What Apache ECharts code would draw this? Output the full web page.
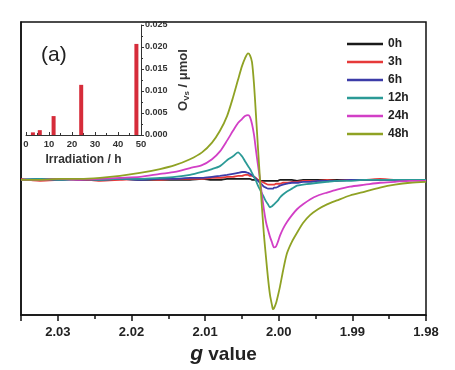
<!DOCTYPE html>
<html><head><meta charset="utf-8">
<script src="https://cdn.jsdelivr.net/npm/echarts@6/dist/echarts.min.js"></script>
<style>html,body{margin:0;padding:0;background:#fff}#c{width:455px;height:370px}</style>
</head><body><div id="c"></div>
<script>
// g values (x axis of the EPR spectra)
const gValues = [2.03500,2.03242,2.02970,2.02699,2.02427,2.02156,2.01884,2.01612,2.01409,2.01205,
  2.01042,2.00906,2.00798,2.00702,2.00621,2.00553,2.00499,2.00458,2.00417,2.00390,
  2.00363,2.00336,2.00309,2.00282,2.00254,2.00227,2.00200,2.00173,2.00146,2.00119,
  2.00091,2.00078,2.00064,2.00037,2.00010,1.99983,1.99942,1.99888,1.99820,1.99752,
  1.99670,1.99575,1.99467,1.99344,1.99209,1.99032,1.98828,1.98625,1.98421,1.98217,1.98000];
// EPR signal intensities (arbitrary units)
const y0h = [0,0,1,0,0,1,0,0,0,0, 1,0,0,1,1,1,1,1,1,1, 0,0,0,0,-1,-1,-1,-1,-1,-1, -1,-1,-1,-1,-1,0,0,0,0,-1, 0,0,0,0,0,0,0,0,0,0,0];
const y3h = [1,-1,0,1,-1,0,1,0,1,1, 1,2,2,3,3,4,4,5,5,4, 4,3,2,0,-1,-2,-3,-4,-5,-5, -5,-5,-5,-4,-4,-4,-3,-3,-2,-2, -1,-1,-1,0,-1,0,0,1,0,0,0];
const y6h = [0,1,0,1,0,1,0,1,1,2, 2,3,4,5,6,7,8,8,7,6, 5,3,1,-1,-3,-5,-7,-8,-9,-9, -9,-9,-8,-8,-7,-6,-5,-4,-3,-3, -2,-2,-1,-1,-1,0,0,0,0,0,0];
const y12h = [0,1,0,1,0,1,1,2,3,5, 8,11,14,20,24,28,24,19,14,11, 7,3,-1,-6,-10,-14,-18,-22,-25,-28, -27,-26,-25,-23,-21,-18,-15,-12,-9,-6, -5,-4,-3,-2,-1,-1,0,0,0,0,0];
const y24h = [0,0,1,0,1,2,3,6,8,12, 15,21,29,40,50,58,62,65,66,64, 57,46,30,15,0,-16,-31,-43,-51,-58, -64,-67,-69,-68,-63,-57,-50,-43,-36,-30, -25,-20,-16,-13,-10,-7,-5,-3,-2,-1,-1];
const y48h = [0,0,1,1,2,4,7,11,15,21, 28,38,50,65,84,102,116,124,129,127, 120,98,66,33,0,-29,-57,-79,-100,-117, -128,-132,-131,-126,-118,-109,-93,-75,-63,-54, -44,-36,-30,-25,-21,-16,-12,-8,-5,-3,-2];
const seriesNames = ['0h','3h','6h','12h','24h','48h'];
// inset: oxygen vacancy amount vs irradiation time
const irradiationHours = [3,6,12,24,48];
const vacancyAmount = [0.0006,0.0011,0.0043,0.0114,0.0207];

const FONT = 'Liberation Sans, Arial, sans-serif';
const colors = ['#1a1a1a','#e63a3a','#3c3ca8','#2b9a96','#d23fc6','#8fa224'];
const epr = [y0h,y3h,y6h,y12h,y24h,y48h];
const axisCol = '#111';

const lineSeries = seriesNames.map((n,i)=>({
  name:n, type:'line', xAxisIndex:0, yAxisIndex:0, symbol:'none', showSymbol:false, smooth:0.25,
  data: gValues.map((g,j)=>[g, epr[i][j]]),
  lineStyle:{width:1.8,color:colors[i]}, itemStyle:{color:colors[i]}, z:2+i
}));

const chart = echarts.init(document.getElementById('c'), null, {renderer:'canvas'});
chart.setOption({
  animation:false,
  backgroundColor:'#fff',
  textStyle:{fontFamily:FONT},
  grid:[
    {left:21, right:29, top:22, bottom:49, show:true, borderColor:axisCol, borderWidth:1.5},
    {left:26, right:314, top:25, bottom:235}
  ],
  legend:{
    data:seriesNames, orient:'vertical', left:347, top:38, itemWidth:36, itemHeight:2.5, itemGap:6,
    icon:'rect', padding:0, textStyle:{fontSize:12, fontWeight:'bold', color:'#222', fontFamily:FONT}
  },
  graphic:[{type:'text', left:41, top:45, style:{text:'(a)', fontSize:21, fill:'#222', fontFamily:FONT}}],
  xAxis:[
    {gridIndex:0, type:'value', min:1.98, max:2.035, interval:0.01, inverse:true, position:'bottom',
     axisLine:{show:true, onZero:false, lineStyle:{color:axisCol, width:1.5}},
     axisTick:{show:true, length:6, lineStyle:{color:axisCol, width:1.5}},
     axisLabel:{formatter:v=>(Math.abs(v-2.035)<1e-6?'':v.toFixed(2)), fontSize:13, fontWeight:'bold', color:'#222', margin:11, fontFamily:FONT},
     splitLine:{show:false},
     name:'{i|g}{n| value}', nameLocation:'middle', nameGap:25,
     nameTextStyle:{rich:{i:{fontStyle:'italic', fontWeight:'bold', fontSize:21, color:'#222', fontFamily:FONT},
                          n:{fontWeight:'bold', fontSize:19, color:'#222', fontFamily:FONT}}}},
    {gridIndex:0, type:'value', min:1.98, max:2.035, interval:0.005, inverse:true, position:'bottom', offset:0,
     axisLine:{show:false, onZero:false}, axisTick:{show:true, length:4, lineStyle:{color:axisCol, width:1.5}},
     axisLabel:{show:false}, splitLine:{show:false}},
    {gridIndex:1, type:'value', min:0, max:50, interval:10,
     axisLine:{show:true, onZero:false, lineStyle:{color:'#333', width:1}},
     axisTick:{show:true, inside:true, length:3, lineStyle:{color:'#333'}},
     minorTick:{show:true, splitNumber:2, length:2, lineStyle:{color:'#333'}},
     axisLabel:{fontSize:9.5, fontWeight:'bold', color:'#333', margin:4, fontFamily:FONT},
     splitLine:{show:false},
     name:'Irradiation / h', nameLocation:'middle', nameGap:19,
     nameTextStyle:{fontSize:12, fontWeight:'bold', color:'#333', fontFamily:FONT}}
  ],
  yAxis:[
    {gridIndex:0, type:'value', min:-138, max:161,
     axisLine:{show:true, onZero:false, lineStyle:{color:axisCol, width:1.5}},
     axisTick:{show:false}, axisLabel:{show:false}, splitLine:{show:false}},
    {gridIndex:1, type:'value', position:'right', min:0, max:0.025, interval:0.005,
     axisLine:{show:true, onZero:false, lineStyle:{color:'#333', width:1}},
     axisTick:{show:true, length:3, lineStyle:{color:'#333'}},
     minorTick:{show:true, splitNumber:2, length:2, lineStyle:{color:'#333'}},
     axisLabel:{formatter:v=>v.toFixed(3), fontSize:9, fontWeight:'bold', color:'#333', margin:4, fontFamily:FONT},
     splitLine:{show:false},
     name:'{o|O}{s|Vs}{o| / μmol}', nameLocation:'middle', nameRotate:90, nameGap:35,
     nameTextStyle:{rich:{o:{fontSize:13, fontWeight:'bold', color:'#333', fontFamily:FONT},
                          s:{fontSize:8, fontWeight:'bold', color:'#333', verticalAlign:'bottom', padding:[7,0,0,0], fontFamily:FONT}}}}
  ],
  series: lineSeries.concat([{
    name:'inset', type:'bar', xAxisIndex:2, yAxisIndex:1, barWidth:4,
    data: irradiationHours.map((h,i)=>[h, vacancyAmount[i]]),
    itemStyle:{color:'#d62c3a'}, z:10
  }])
});
</script></body></html>
